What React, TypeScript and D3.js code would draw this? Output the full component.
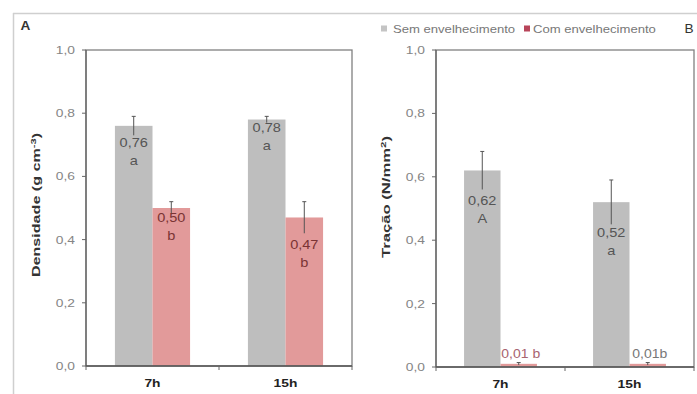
import React from 'react';
import * as d3 from 'd3';

const categories = ['7h', '15h'];
const seriesNames = ['Sem envelhecimento', 'Com envelhecimento'];
const yTicks = [0, 0.2, 0.4, 0.6, 0.8, 1.0];

// Panel A – Densidade
const densSem = [0.76, 0.78];
const densSemErr = [0.03, 0.01];
const densSemLetters = ['a', 'a'];
const densCom = [0.5, 0.47];
const densComErr = [0.02, 0.05];
const densComLetters = ['b', 'b'];

// Panel B – Tração
const tracSem = [0.62, 0.52];
const tracSemErr = [0.06, 0.07];
const tracSemLetters = ['A', 'a'];
const tracCom = [0.01, 0.01];
const tracComErr = [0.004, 0.004];
const tracComLetters = ['b', 'b'];
const tracComSep = [' ', ''];

// label layout offsets (pixels below bar top of first line)
const densSemDy = [17, 8];
const densComDy = [9, 27];
const tracSemDy = [30, 30];

const GRAY = '#bebebe';
const RED = '#e29a9a';
const fmt = (v: number) => d3.format('.2f')(v).replace('.', ',');
const fmt1 = (v: number) => d3.format('.1f')(v).replace('.', ',');
const FONT = 'Liberation Sans, Arial, sans-serif';

function T(props: any) {
  const { x, y, sx = 1.2, anchor = 'middle', size = 11, weight = 'normal', fill = '#555', children, rotate } = props;
  const tr = rotate
    ? `translate(${x},${y}) rotate(-90) scale(${sx},1)`
    : `translate(${x},${y}) scale(${sx},1)`;
  return (
    <text transform={tr} textAnchor={anchor} fontSize={size} fontWeight={weight} fill={fill} fontFamily={FONT}>
      {children}
    </text>
  );
}

function Panel(props: any) {
  const { left, right, top, bottom, sem, semErr, semLetters, semDy, com, comErr, comLetters, comDy, comInline, comSep, title, comLabelColors } = props;
  const y = d3.scaleLinear().domain([0, 1]).range([bottom, top]);
  const x0 = d3.scaleBand<string>().domain(categories).range([left, right]);
  const bw = x0.bandwidth();
  const gw = bw * 0.565;
  const x1 = d3.scaleBand<string>().domain(seriesNames).range([0, gw]);
  const sub = x1.bandwidth();
  const barX = (c: string, s: string) => (x0(c) as number) + (bw - gw) / 2 + (x1(s) as number);

  const series = [
    { name: seriesNames[0], vals: sem, errs: semErr, letters: semLetters, dy: semDy, color: GRAY },
    { name: seriesNames[1], vals: com, errs: comErr, letters: comLetters, dy: comDy, color: RED },
  ];

  return (
    <g>
      {series.map((s, si) =>
        categories.map((c, ci) => (
          <rect key={`b${si}${ci}`} x={barX(c, s.name)} y={y(s.vals[ci])} width={sub} height={bottom - y(s.vals[ci])} fill={s.color} />
        ))
      )}
      {series.map((s, si) =>
        categories.map((c, ci) => {
          const cx = barX(c, s.name) + sub / 2;
          const v = s.vals[ci];
          const e = s.errs[ci];
          return (
            <g key={`e${si}${ci}`} stroke="#555" strokeWidth={1}>
              <line x1={cx} x2={cx} y1={y(v + e)} y2={y(Math.max(0, v - e))} />
              <line x1={cx - 2} x2={cx + 2} y1={y(v + e)} y2={y(v + e)} />
            </g>
          );
        })
      )}
      <rect x={left} y={top} width={right - left} height={bottom - top} fill="none" stroke="#808080" strokeWidth={1.3} />
      <line x1={left} x2={left} y1={top} y2={bottom} stroke="#666" strokeWidth={1.3} />
      <line x1={left} x2={right} y1={bottom} y2={bottom} stroke="#555" strokeWidth={1.3} />
      {yTicks.map((t) => (
        <g key={`yt${t}`}>
          <line x1={left - 4} x2={left} y1={y(t)} y2={y(t)} stroke="#666" strokeWidth={1} />
          <T x={left - 11} y={y(t) + 4} anchor="end" fill="#858585" size={11.5}>{fmt1(t)}</T>
        </g>
      ))}
      {[left, ...categories.map((c) => (x0(c) as number) + bw)].map((xx, i) => (
        <line key={`xt${i}`} x1={xx} x2={xx} y1={bottom} y2={bottom + 4} stroke="#666" strokeWidth={1} />
      ))}
      {categories.map((c) => (
        <T key={`xl${c}`} x={(x0(c) as number) + bw / 2} y={bottom + 21} weight="bold" fill="#222" size={11.5}>{c}</T>
      ))}
      {series.map((s, si) =>
        categories.map((c, ci) => {
          const cx = barX(c, s.name) + sub / 2;
          const v = s.vals[ci];
          if (si === 1 && comInline) {
            return (
              <T key={`l${si}${ci}`} x={cx + 2} y={y(v) - 6} size={12.5} sx={1.12} fill={comLabelColors[ci]}>
                {fmt(v) + comSep[ci] + s.letters[ci]}
              </T>
            );
          }
          const base = y(v) + s.dy[ci];
          const col = si === 0 ? '#555' : '#7a3434';
          return (
            <g key={`l${si}${ci}`}>
              <T x={cx} y={base + 4.5} size={13} sx={1.12} fill={col}>{fmt(v)}</T>
              <T x={cx} y={base + 4.5 + 18} size={13} sx={1.12} fill={col}>{s.letters[ci]}</T>
            </g>
          );
        })
      )}
      {title}
    </g>
  );
}

export default function App() {
  return (
    <svg width={697} height={394} style={{ position: 'absolute', left: 0, top: 0, background: '#fff' }}>
      <rect x={0} y={0} width={697} height={394} fill="#fff" />
      <line x1={13} x2={697} y1={13.5} y2={13.5} stroke="#cfcfcf" strokeWidth={1.5} />
      <line x1={13.5} x2={13.5} y1={13} y2={394} stroke="#cfcfcf" strokeWidth={1.5} />
      <T x={25.5} y={30} weight="bold" fill="#333" size={13} sx={1.05}>A</T>
      <T x={689} y={33} weight="normal" fill="#333" size={13} sx={1.05}>B</T>

      <Panel
        left={86} right={352} top={50} bottom={366}
        sem={densSem} semErr={densSemErr} semLetters={densSemLetters} semDy={densSemDy}
        com={densCom} comErr={densComErr} comLetters={densComLetters} comDy={densComDy}
        comInline={false}
        title={
          <text transform="translate(40,205) rotate(-90) scale(1.4,1)" textAnchor="middle" fontSize={11.5} fontWeight="bold" fill="#333" fontFamily={FONT}>
            Densidade (g cm<tspan dy={-4} fontSize={8}>-3</tspan><tspan dy={4}>)</tspan>
          </text>
        }
      />
      <Panel
        left={436} right={694} top={50} bottom={367}
        sem={tracSem} semErr={tracSemErr} semLetters={tracSemLetters} semDy={tracSemDy}
        com={tracCom} comErr={tracComErr} comLetters={tracComLetters} comDy={[0, 0]}
        comInline={true} comSep={tracComSep} comLabelColors={['#a86470', '#777']}
        title={
          <text transform="translate(390,197) rotate(-90) scale(1.45,1)" textAnchor="middle" fontSize={11.5} fontWeight="bold" fill="#333" fontFamily={FONT}>
            Tração (N/mm<tspan dy={-4} fontSize={8}>2</tspan><tspan dy={4}>)</tspan>
          </text>
        }
      />

      <rect x={381} y={25.5} width={6} height={6} fill="#c4c4c4" />
      <T x={393} y={32.5} anchor="start" fill="#777" size={11} sx={1.19}>{seriesNames[0]}</T>
      <rect x={524} y={25.5} width={6} height={6} fill="#b8455a" />
      <T x={533} y={32.5} anchor="start" fill="#777" size={11} sx={1.19}>{seriesNames[1]}</T>
    </svg>
  );
}
